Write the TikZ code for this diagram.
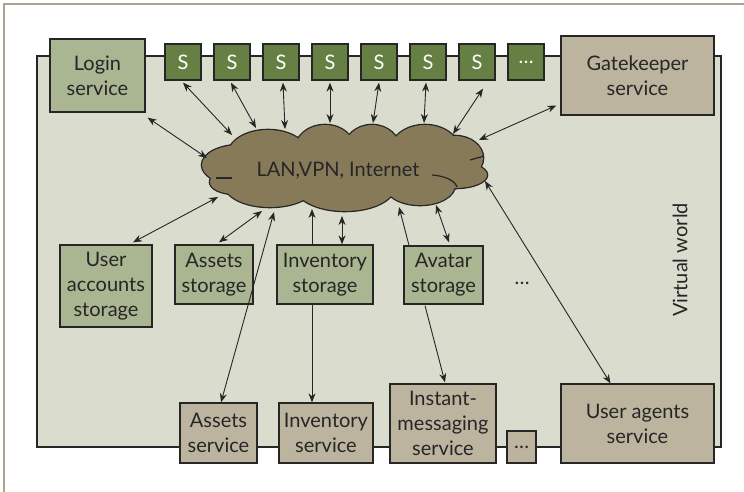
\documentclass[tikz,border=0pt]{standalone}
\usepackage{fontspec}
\setmainfont{Lato}
\usetikzlibrary{arrows.meta,calc}
\definecolor{bgw}{HTML}{DADCCE}
\definecolor{boxg}{HTML}{AAB592}
\definecolor{boxs}{HTML}{667F42}
\definecolor{boxt}{HTML}{BDB49F}
\definecolor{cloudc}{HTML}{877A58}
\definecolor{framec}{HTML}{ABA38D}
\definecolor{ink}{HTML}{262626}
\begin{document}
\begin{tikzpicture}[x=1pt,y=-1pt,
  font=\fontsize{20}{25}\selectfont,
  box/.style={draw=ink, line width=1.3pt, align=center, inner sep=0pt, text=ink},
  gbox/.style={box, fill=boxg},
  tbox/.style={box, fill=boxt},
  sbox/.style={box, fill=boxs, text=white, minimum width=36pt, minimum height=36pt},
  link/.style={draw=ink, line width=0.9pt, {Stealth[length=9pt,width=7pt]}-{Stealth[length=9pt,width=7pt]}},
  oneway/.style={draw=ink, line width=0.9pt, -{Stealth[length=9pt,width=7pt]}}]
\useasboundingbox (0,0) rectangle (744,492);
\fill[white] (0,0) rectangle (744,492);
\draw[framec, line width=2pt] (4,492) -- (4,4) -- (744,4);

% virtual world
\node[draw=ink, line width=1.3pt, fill=bgw, minimum width=684pt, minimum height=391pt, inner sep=0pt] (world) at (379,251.5) {};
\node[rotate=90, text=ink] (vw) at (680,260) {Virtual world};

% top row
\node[gbox, minimum width=95pt, minimum height=73pt] (login) at (97.5,75.5) {Login\\service};
\foreach \i in {1,...,7} {
  \node[sbox] (s\i) at ({165+49*(\i-1)+18},62) {S};
}
\node[sbox] (s8) at ({165+49*7+18},62) {\dots};
\node[tbox, minimum width=153pt, minimum height=79pt] (gate) at (637.5,75.5) {Gatekeeper\\service};

% cloud
\begin{scope}
\def\lobes{240/165/38/20, 268/155/40/25, 325/150/30/25, 372/150/28/25, 425/152/35/27, 455/158/28/22, 455/175/32/13, 420/185/35/20, 345/186/50/25, 270/185/45/22, 235/182/25/12}
\foreach \cx/\cy/\rx/\ry in \lobes {
  \draw[ink, line width=2.6pt] (\cx,\cy) ellipse [x radius=\rx, y radius=\ry];
}
\foreach \cx/\cy/\rx/\ry in \lobes {
  \fill[cloudc] (\cx,\cy) ellipse [x radius=\rx, y radius=\ry];
}
\fill[cloudc] (345,168) ellipse [x radius=125, y radius=28];
\draw[ink, line width=1.2pt] (216,178) -- (232,178);
\draw[ink, line width=1.2pt] (432,175) .. controls (446,176) and (455,181) .. (457,187);
\draw[ink, line width=1.2pt] (470,160) .. controls (477,158) and (481,157) .. (484,156);
\end{scope}
\node[text=ink] (net) at (338,171) {LAN,VPN, Internet};

% cloud contact points
\coordinate (cL) at (207,158);
\coordinate (c1) at (232,135);
\coordinate (c2) at (256,128);
\coordinate (c3) at (285,129);
\coordinate (c4) at (330,123);
\coordinate (c5) at (373,123);
\coordinate (c6) at (424,123);
\coordinate (c7) at (453,134);
\coordinate (cG) at (479,140);
\coordinate (cUA) at (485,181);
\coordinate (cUS) at (218,197);
\coordinate (cAS) at (262,211);
\coordinate (cAV) at (274,212);
\coordinate (cIS) at (312,209);
\coordinate (cID) at (342,216);
\coordinate (cVS) at (399,207);
\coordinate (cVD) at (436,205);

% middle row
\node[gbox, minimum width=92pt, minimum height=82pt] (uas) at (106,286) {User\\accounts\\storage};
\node[gbox, minimum width=78pt, minimum height=59pt] (ast) at (214,274.5) {Assets\\storage};
\node[gbox, minimum width=96pt, minimum height=59pt] (ist) at (325,274.5) {Inventory\\storage};
\node[gbox, minimum width=79pt, minimum height=58pt] (avs) at (443.5,275) {Avatar\\storage};
\node[text=ink] (more) at (522,283) {\dots};

% bottom row
\node[tbox, minimum width=77pt, minimum height=60pt] (asv) at (218.5,433) {Assets\\service};
\node[tbox, minimum width=94pt, minimum height=60pt] (isv) at (326,433) {Inventory\\service};
\node[tbox, minimum width=106pt, minimum height=79pt] (imsv) at (443,423.5) {Instant-\\messaging\\service};
\node[tbox, minimum width=29pt, minimum height=32pt] (bdots) at (521.5,447) {\dots};
\node[tbox, minimum width=153pt, minimum height=79pt] (uag) at (637.5,423.5) {User agents\\service};

% connectors
\draw[link] ($(login.south east)+(2,5)$) -- (cL);
\draw[link] ($(s1.south)+(0,2)$) -- (c1);
\draw[link] ($(s2.south)+(-1,2)$) -- (c2);
\draw[link] ($(s3.south)+(2,2)$) -- (c3);
\draw[link] ($(s4.south)+(0,2)$) -- (c4);
\draw[link] ($(s5.south)+(0,2)$) -- (c5);
\draw[link] ($(s6.south)+(-2,2)$) -- (c6);
\draw[link] ($(s7.south)+(6,8)$) -- (c7);
\draw[link] ($(gate.west)+(-4,30)$) -- (cG);
\draw[link] ($(uag.north)+(-27,0)$) -- (cUA);
\draw[link] ($(uas.north)+(27,-2)$) -- (cUS);
\draw[link] ($(ast.north)+(5,-2)$) -- (cAS);
\draw[link] ($(asv.north)+(2.5,0)$) -- (cAV);
\draw[oneway] ($(ist.north)+(-13,0)$) -- (cIS);
\draw[link] ($(ist.north)+(17,0)$) -- (cID);
\draw[oneway] ($(ist.south)+(-13,0)$) -- ($(isv.north)+(-14,0)$);
\draw[oneway] ($(avs.north)+(-34.5,0)$) -- (cVS);
\draw[link] ($(avs.north)+(5.5,-3)$) -- (cVD);
\draw[oneway] ($(avs.south)+(-18.5,1)$) -- ($(imsv.north)+(2,-1)$);
\end{tikzpicture}
\end{document}
